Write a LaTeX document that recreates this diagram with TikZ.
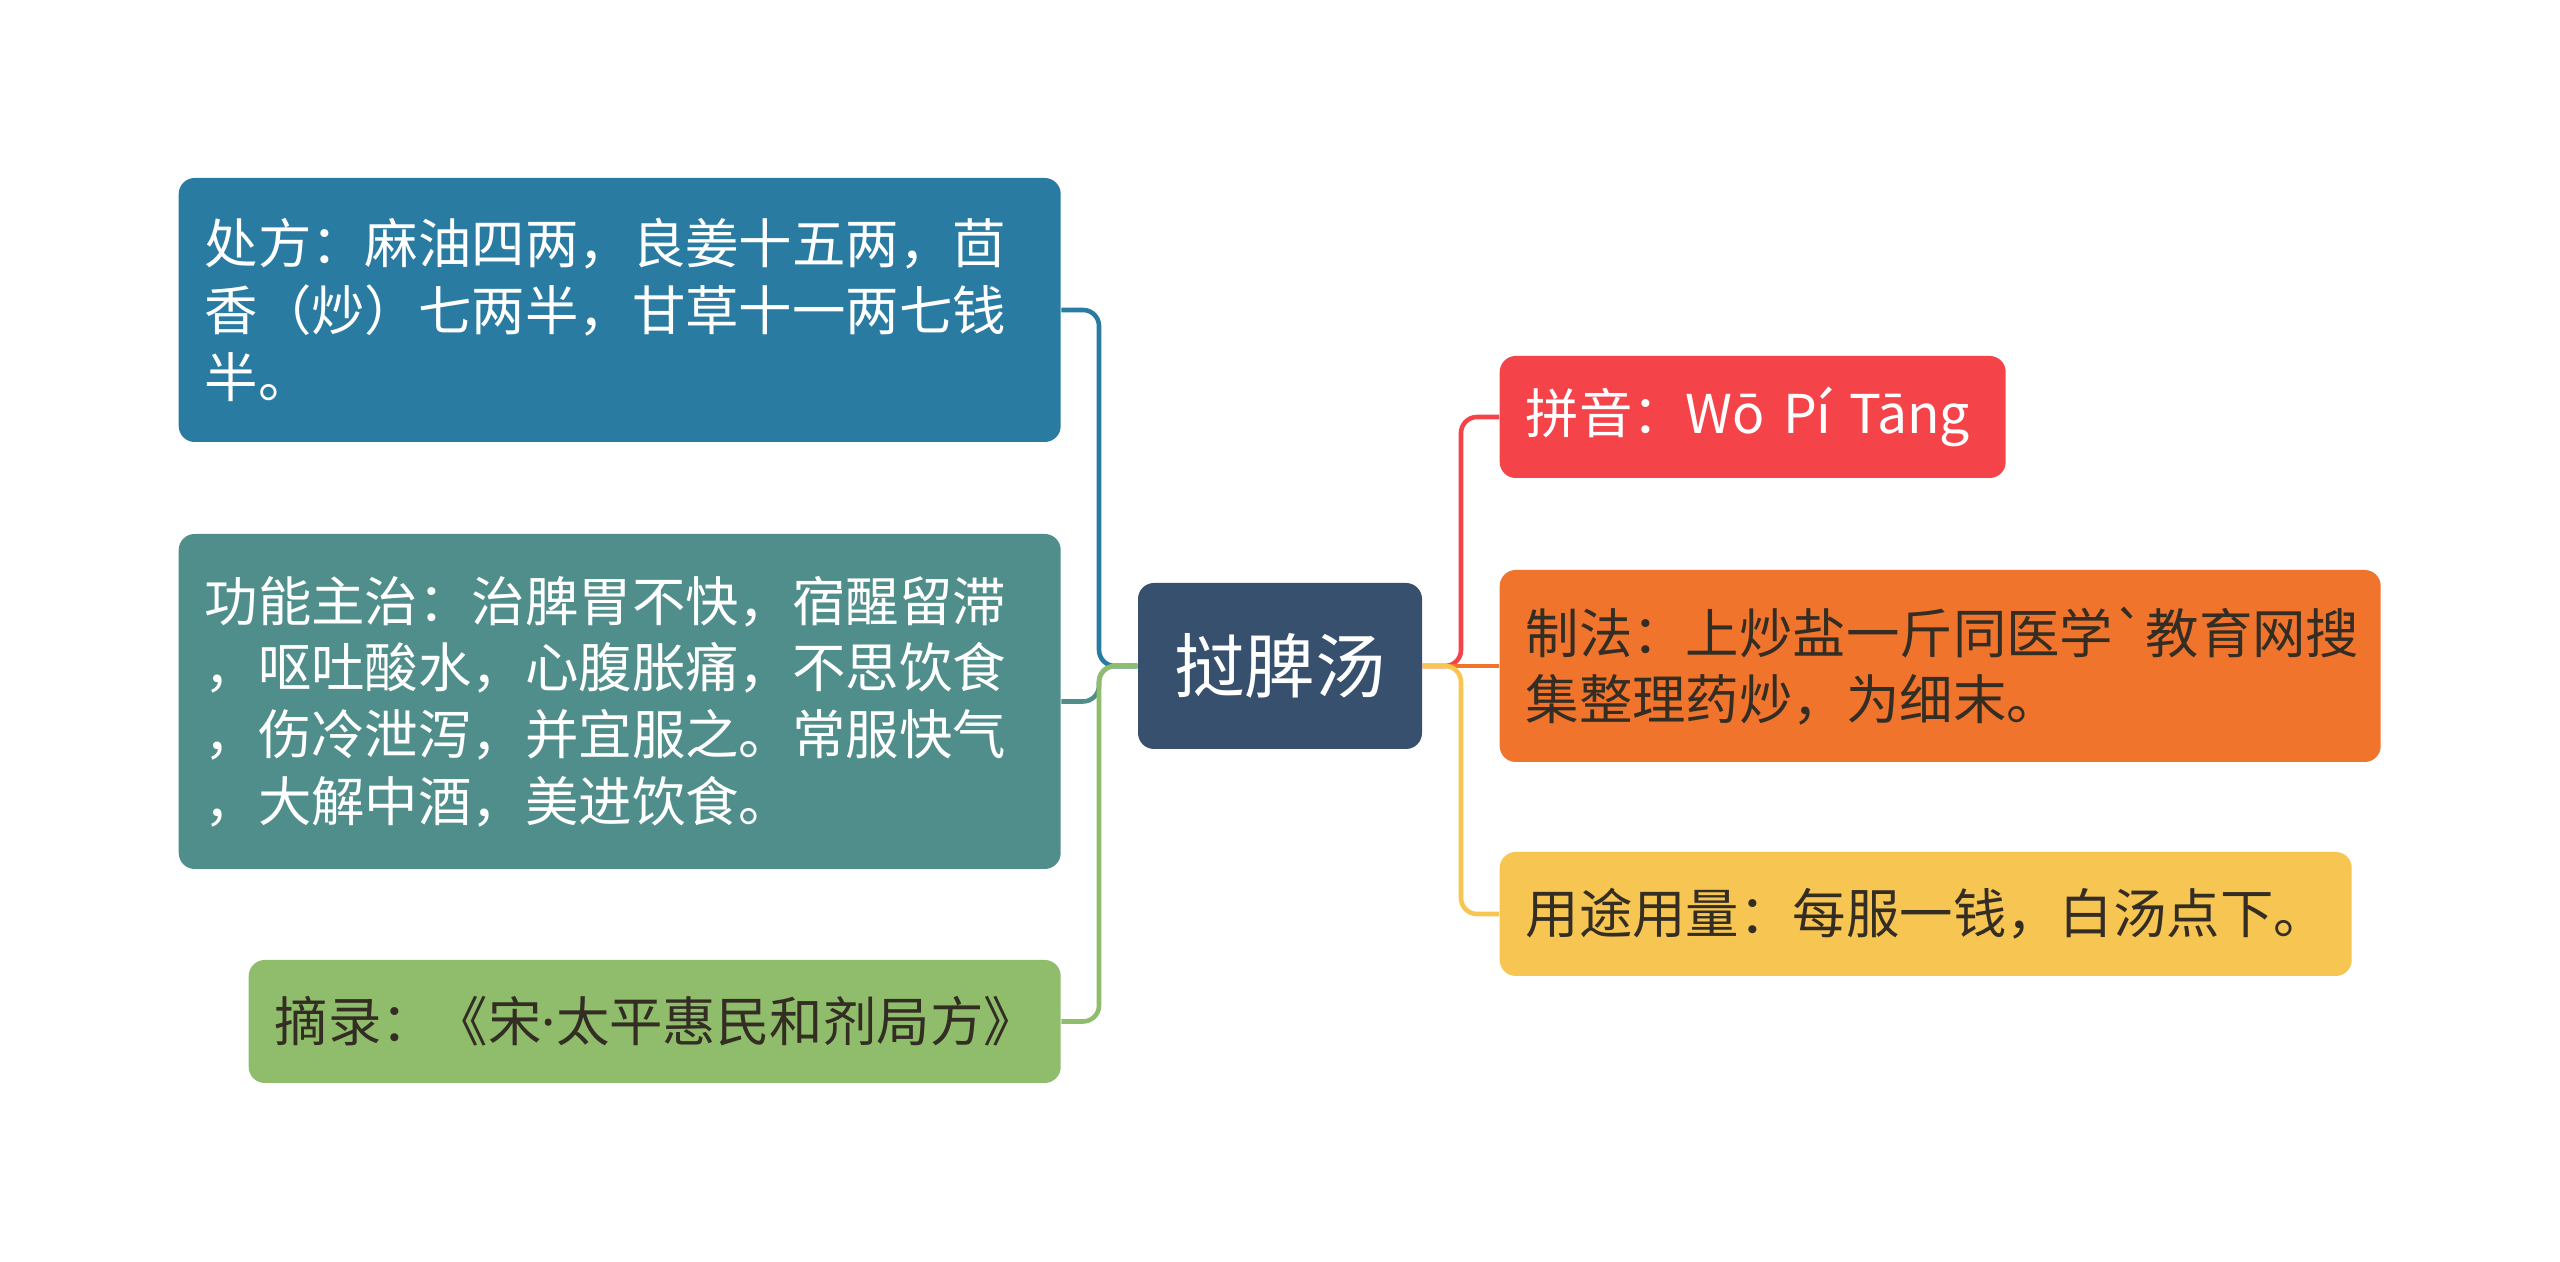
\documentclass[tikz,border=0pt]{standalone}
\usepackage{fontspec}
\setmainfont{Noto Sans CJK SC}[Ligatures=TeXOff]
\newfontfamily\latinfont{Noto Sans}
\definecolor{rootblue}{RGB}{54,80,110}
\definecolor{seablue}{RGB}{41,123,161}
\definecolor{teal}{RGB}{79,142,138}
\definecolor{leafgreen}{RGB}{143,189,107}
\definecolor{pinyinred}{RGB}{245,67,74}
\definecolor{methorange}{RGB}{240,116,44}
\definecolor{doseyellow}{RGB}{247,197,82}
\definecolor{darktext}{RGB}{51,45,36}
\begin{document}
\begin{tikzpicture}[
    box/.style={rounded corners=0.16cm, inner xsep=0.26cm, inner ysep=0pt, anchor=west,
      align=left, font=\fontsize{15.2pt}{19pt}\selectfont},
    conn/.style={line width=1.3pt, rounded corners=0.16cm}
  ]
  \useasboundingbox (0,0) rectangle (25.6,12.62);

  % Central topic
  \node[fill=rootblue, text=white, rounded corners=0.16cm, minimum width=2.84cm,
    minimum height=1.66cm, font=\fontsize{20pt}{24pt}\selectfont] (root) at (12.80,5.96) {挝脾汤};

  % Left side
  \node[box, fill=seablue, text=white, text width=8.30cm, minimum height=2.64cm] (recipe) at (1.78,9.52)
    {处方：麻油四两，良姜十五两，茴\\香（炒）七两半，甘草十一两七钱\\半。};
  \node[box, fill=teal, text=white, text width=8.30cm, minimum height=3.35cm] (usage) at (1.78,5.605)
    {功能主治：治脾胃不快，宿醒留滞\\，呕吐酸水，心腹胀痛，不思饮食\\，伤冷泄泻，并宜服之。常服快气\\，大解中酒，美进饮食。};
  \node[box, fill=leafgreen, text=darktext, text width=7.60cm, minimum height=1.23cm] (source) at (2.48,2.405)
    {摘录：《宋{\latinfont ·}太平惠民和剂局方》};

  % Right side
  \node[box, fill=pinyinred, text=white, text width=4.54cm, minimum height=1.22cm] (pinyin) at (14.99,8.45)
    {拼音：Wō Pí Tāng};
  \node[box, fill=methorange, text=darktext, text width=8.29cm, minimum height=1.92cm] (method) at (14.99,5.96)
    {制法：上炒盐一斤同医学`教育网搜\\集整理药炒，为细末。};
  \node[box, fill=doseyellow, text=darktext, text width=8.00cm, minimum height=1.24cm] (dose) at (14.99,3.48)
    {用途用量：每服一钱，白汤点下。};

  % Branch points
  \coordinate (lj) at (10.99,5.96);
  \coordinate (rj) at (14.61,5.96);

  % Connectors
  \draw[conn, seablue] (root.west) -- (lj) |- (recipe.east);
  \draw[conn, teal] (root.west) -- (lj) |- (usage.east);
  \draw[conn, leafgreen] (root.west) -- (lj) |- (source.east);

  \draw[conn, pinyinred] (root.east) -- (rj) |- (pinyin.west);
  \draw[conn, methorange] (root.east) -- (method.west);
  \draw[conn, doseyellow] (root.east) -- (rj) |- (dose.west);
\end{tikzpicture}
\end{document}
